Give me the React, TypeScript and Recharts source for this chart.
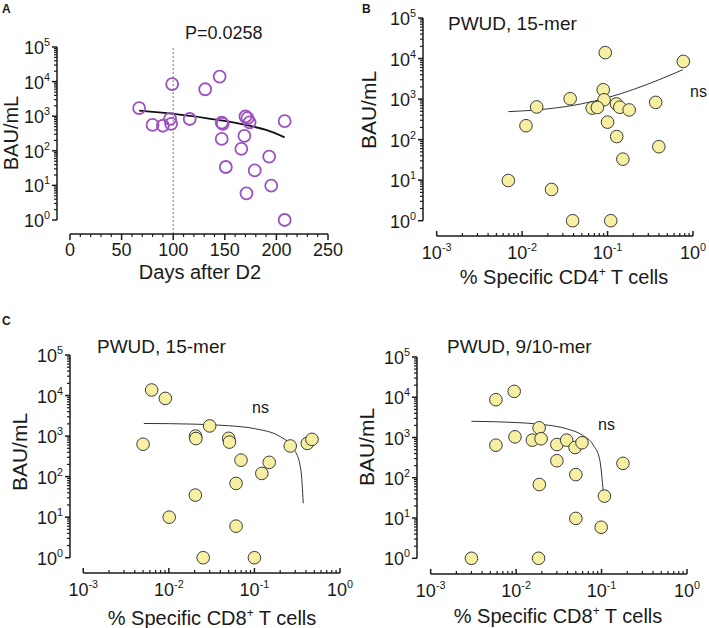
import React from 'react';
import { ScatterChart, Scatter, XAxis, YAxis, ReferenceLine } from 'recharts';

// Panel A: antibody titre vs days after second dose
const daysA = [67, 80, 90, 97, 98, 99, 116, 131, 145, 147, 148, 147, 151, 166, 169, 170, 172, 174, 171, 179, 193, 195, 208, 208];
const bauA = [1700, 560, 530, 840, 600, 8500, 830, 6000, 14000, 650, 600, 220, 34, 114, 270, 980, 880, 660, 5.9, 27, 68, 9.8, 720, 1];
const fitDaysA = [67, 100, 130, 150, 170, 190, 208];
const fitBauA = [1440, 1160, 900, 730, 560, 400, 245];

// Panel B: CD4 15-mer
const cd4B = [0.094, 0.77, 0.089, 0.0365, 0.091, 0.366, 0.0148, 0.066, 0.076, 0.127, 0.139, 0.179, 0.0111, 0.1, 0.128, 0.398, 0.151, 0.0069, 0.0221, 0.039, 0.109];
const bauB = [14000, 8500, 1700, 1020, 960, 830, 640, 600, 620, 760, 630, 540, 220, 270, 119, 67, 33, 9.8, 5.9, 1, 1];
const fitCd4B = [0.0069, 0.02, 0.05, 0.1, 0.2, 0.4, 0.76];
const fitBauB = [490, 574, 766, 1085, 1724, 3000, 5300];

// Panel C left: CD8 15-mer
const cd8C15 = [0.0063, 0.0091, 0.005, 0.03, 0.0205, 0.0207, 0.05, 0.051, 0.0697, 0.149, 0.122, 0.061, 0.0204, 0.0101, 0.061, 0.0252, 0.1, 0.262, 0.415, 0.47];
const bauC15 = [13700, 8500, 630, 1780, 1000, 870, 880, 710, 255, 225, 120, 68, 35, 10, 6, 1, 1, 570, 660, 830];
const fitCd8C15 = [0.0051, 0.02, 0.05, 0.1, 0.2, 0.3, 0.35, 0.372];
const fitBauC15 = [2050, 1970, 1800, 1530, 970, 420, 140, 22];

// Panel C right: CD8 9/10-mer
const cd8C910 = [0.0095, 0.0058, 0.0058, 0.0097, 0.0186, 0.0155, 0.0196, 0.03, 0.039, 0.049, 0.059, 0.03, 0.05, 0.0187, 0.108, 0.05, 0.099, 0.178, 0.003, 0.0183];
const bauC910 = [14000, 8700, 645, 1040, 1740, 860, 930, 670, 860, 565, 740, 265, 120, 68, 35, 9.8, 5.9, 228, 1, 1];
const fitCd8C910 = [0.003, 0.01, 0.02, 0.04, 0.06, 0.08, 0.095, 0.105];
const fitBauC910 = [2527, 2356, 2113, 1626, 1138, 651, 286, 42];

const yDecades = [0, 1, 2, 3, 4, 5];
const xDecades = [-3, -2, -1, 0];
const daysTicks = [0, 10, 20, 30, 40, 50, 60, 70, 80, 90, 100, 110, 120, 130, 140, 150, 160, 170, 180, 190, 200, 210, 220, 230, 240, 250];

const FONT = '"Liberation Sans", Arial, Helvetica, sans-serif';
const INK = '#1a1a1a';
const PURPLE = '#9b51c2';
const YELLOW = '#f7f0a3';

const zip = (xs: number[], ys: number[]) => xs.map((x, i) => ({ x, y: ys[i] }));

function logTicks(exps: number[]) {
  const out: number[] = [];
  exps.forEach((e, i) => {
    out.push(Math.pow(10, e));
    if (i < exps.length - 1) {
      for (let k = 2; k <= 9; k++) out.push(k * Math.pow(10, e));
    }
  });
  return out;
}

function isDecade(v: number) {
  const lg = Math.log10(v);
  return Math.abs(lg - Math.round(lg)) < 1e-6;
}

function YLogTick(props: any) {
  const { x, y, payload, fs } = props;
  const v = payload.value;
  if (!isDecade(v)) {
    return <line x1={x - 3} x2={x} y1={y} y2={y} stroke={INK} strokeWidth={1.2} />;
  }
  return (
    <g>
      <line x1={x - 5} x2={x} y1={y} y2={y} stroke={INK} strokeWidth={1.5} />
      <text x={x - 7} y={y + 7} textAnchor="end" fontSize={fs} fontFamily={FONT} fill={INK}>
        10<tspan dy={-8} fontSize={fs * 0.6}>{Math.round(Math.log10(v))}</tspan>
      </text>
    </g>
  );
}

function XLogTick(props: any) {
  const { x, y, payload, fs } = props;
  const v = payload.value;
  if (!isDecade(v)) {
    return <line x1={x} x2={x} y1={y} y2={y - 3} stroke={INK} strokeWidth={1.2} />;
  }
  return (
    <g>
      <line x1={x} x2={x} y1={y} y2={y - 5} stroke={INK} strokeWidth={1.5} />
      <text x={x} y={y + 23} textAnchor="middle" fontSize={fs} fontFamily={FONT} fill={INK}>
        10<tspan dy={-8} fontSize={fs * 0.6}>{Math.round(Math.log10(v))}</tspan>
      </text>
    </g>
  );
}

function XDaysTick(props: any) {
  const { x, y, payload, fs } = props;
  const v = payload.value;
  if (v % 50 !== 0) {
    return <line x1={x} x2={x} y1={y} y2={y + 3} stroke={INK} strokeWidth={1.2} />;
  }
  return (
    <g>
      <line x1={x} x2={x} y1={y} y2={y + 6} stroke={INK} strokeWidth={1.5} />
      <text x={x} y={y + 22} textAnchor="middle" fontSize={fs} fontFamily={FONT} fill={INK}>
        {v}
      </text>
    </g>
  );
}

interface PanelProps {
  plot: { l: number; t: number; r: number; b: number };
  xLog: boolean;
  xDomain: [number, number];
  yDomain: [number, number];
  xTicks: number[];
  yTicks: number[];
  xSpan: [number, number];
  points: { x: number; y: number }[];
  fit: { x: number; y: number }[];
  open?: boolean;
  vline?: number;
  fs: number;
}

function Panel(p: PanelProps) {
  const W = 709;
  const H = 628;
  const dot = (s: any) =>
    p.open ? (
      <circle cx={s.cx} cy={s.cy} r={6} fill="none" stroke={PURPLE} strokeWidth={1.8} />
    ) : (
      <circle cx={s.cx} cy={s.cy} r={6.3} fill={YELLOW} stroke="#3a3a3a" strokeWidth={1} />
    );
  return (
    <div style={{ position: 'absolute', left: 0, top: 0 }}>
      <ScatterChart
        width={W}
        height={H}
        margin={{ left: p.plot.l - 1, top: p.plot.t, right: W - p.plot.r, bottom: H - p.plot.b - 1 }}
      >
        <XAxis
          type="number"
          dataKey="x"
          scale={p.xLog ? 'log' : 'linear'}
          domain={p.xDomain}
          allowDataOverflow
          ticks={p.xTicks}
          interval={0}
          height={1}
          tickSize={0}
          tickMargin={0}
          axisLine={false}
          tickLine={false}
          tick={(t: any) => (p.xLog ? <XLogTick {...t} fs={p.fs} /> : <XDaysTick {...t} fs={p.fs} />)}
        />
        <YAxis
          type="number"
          dataKey="y"
          scale="log"
          domain={p.yDomain}
          allowDataOverflow
          ticks={p.yTicks}
          interval={0}
          width={1}
          tickSize={0}
          tickMargin={0}
          axisLine={false}
          tickLine={false}
          tick={(t: any) => <YLogTick {...t} fs={p.fs} />}
        />
        {p.vline !== undefined && (
          <ReferenceLine x={p.vline} stroke="#777" strokeDasharray="2 2" strokeWidth={1} />
        )}
        <ReferenceLine
          segment={[{ x: p.xDomain[0], y: 1 }, { x: p.xDomain[0], y: 100000 }]}
          stroke={INK}
          strokeWidth={1.5}
        />
        <ReferenceLine
          segment={[{ x: p.xSpan[0], y: p.yDomain[0] }, { x: p.xSpan[1], y: p.yDomain[0] }]}
          stroke={INK}
          strokeWidth={1.5}
        />
        <Scatter
          data={p.fit}
          line={{ stroke: p.open ? '#111' : '#333', strokeWidth: p.open ? 1.8 : 1 }}
          lineJointType="monotoneX"
          shape={() => <g />}
          isAnimationActive={false}
        />
        <Scatter data={p.points} shape={dot} isAnimationActive={false} />
      </ScatterChart>
    </div>
  );
}

function Title(props: { x: number; y: number; size: number; children: React.ReactNode; anchor?: string; bold?: boolean }) {
  return (
    <text
      x={props.x}
      y={props.y}
      fontSize={props.size}
      fontFamily={FONT}
      fill={INK}
      textAnchor={(props.anchor as any) || 'start'}
      fontWeight={props.bold ? 'bold' : 'normal'}
    >
      {props.children}
    </text>
  );
}

function YTitle({ cx, cy, size }: { cx: number; cy: number; size: number }) {
  return (
    <text
      transform={`translate(${cx},${cy}) rotate(-90)`}
      textAnchor="middle"
      dominantBaseline="central"
      fontSize={size}
      fontFamily={FONT}
      fill={INK}
    >
      BAU/mL
    </text>
  );
}

function CellsTitle({ x, y, cd }: { x: number; y: number; cd: string }) {
  return (
    <text x={x} y={y} textAnchor="middle" fontSize={20} fontFamily={FONT} fill={INK}>
      {`% Specific ${cd}`}
      <tspan dy={-8} fontSize={12}>+</tspan>
      <tspan dy={8}>{' T cells'}</tspan>
    </text>
  );
}

export default function App() {
  const yAll = logTicks(yDecades);
  const xAll = logTicks(xDecades);
  return (
    <div style={{ position: 'absolute', left: 0, top: 0, width: 709, height: 628, background: '#fff' }}>
      <Panel
        plot={{ l: 57, t: 47, r: 328, b: 234 }}
        xLog={false}
        xDomain={[-12.6, 250]}
        yDomain={[Math.pow(10, -0.405), 100000]}
        xTicks={daysTicks}
        yTicks={yAll}
        xSpan={[0, 250]}
        points={zip(daysA, bauA)}
        fit={zip(fitDaysA, fitBauA)}
        open
        vline={100}
        fs={18}
      />
      <Panel
        plot={{ l: 423, t: 18, r: 693, b: 236 }}
        xLog
        xDomain={[Math.pow(10, -3.16), 1]}
        yDomain={[Math.pow(10, -0.377), 100000]}
        xTicks={xAll}
        yTicks={yAll}
        xSpan={[0.001, 1]}
        points={zip(cd4B, bauB)}
        fit={zip(fitCd4B, fitBauB)}
        fs={18}
      />
      <Panel
        plot={{ l: 70, t: 355, r: 340, b: 573 }}
        xLog
        xDomain={[Math.pow(10, -3.155), 1]}
        yDomain={[Math.pow(10, -0.377), 100000]}
        xTicks={xAll}
        yTicks={yAll}
        xSpan={[0.001, 1]}
        points={zip(cd8C15, bauC15)}
        fit={zip(fitCd8C15, fitBauC15)}
        fs={18}
      />
      <Panel
        plot={{ l: 417, t: 357, r: 687, b: 574 }}
        xLog
        xDomain={[Math.pow(10, -3.16), 1]}
        yDomain={[Math.pow(10, -0.39), 100000]}
        xTicks={xAll}
        yTicks={yAll}
        xSpan={[0.001, 1]}
        points={zip(cd8C910, bauC910)}
        fit={zip(fitCd8C910, fitBauC910)}
        fs={18}
      />
      <svg width={709} height={628} style={{ position: 'absolute', left: 0, top: 0, pointerEvents: 'none' }}>
        <Title x={2} y={13} size={12} bold>A</Title>
        <Title x={362} y={13} size={12} bold>B</Title>
        <Title x={2} y={325} size={12} bold>C</Title>

        <Title x={185} y={39} size={18}>P=0.0258</Title>
        <YTitle cx={11} cy={133} size={20} />
        <Title x={200} y={279} size={20} anchor="middle">Days after D2</Title>

        <YTitle cx={368} cy={110} size={21} />
        <Title x={448} y={30} size={19}>PWUD, 15-mer</Title>
        <Title x={690} y={97} size={16}>ns</Title>
        <CellsTitle x={564} y={284} cd="CD4" />

        <YTitle cx={19} cy={452} size={21} />
        <Title x={97} y={353} size={19}>PWUD, 15-mer</Title>
        <Title x={252} y={413} size={16}>ns</Title>
        <CellsTitle x={212} y={625} cd="CD8" />

        <YTitle cx={366} cy={447} size={21} />
        <Title x={447} y={353} size={19}>PWUD, 9/10-mer</Title>
        <Title x={598} y={430} size={16}>ns</Title>
        <CellsTitle x={558} y={623} cd="CD8" />
      </svg>
    </div>
  );
}
